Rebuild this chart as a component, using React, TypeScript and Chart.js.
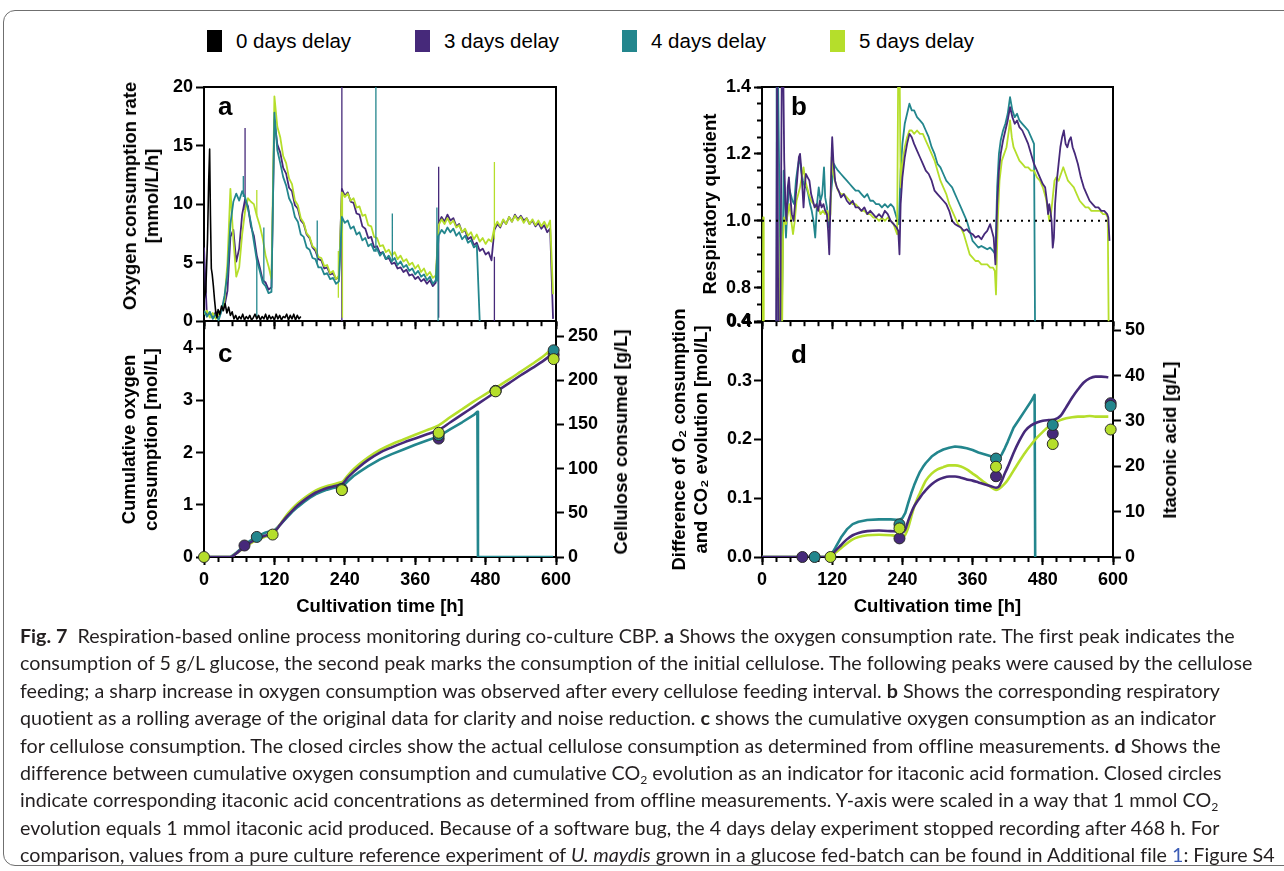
import React, { useEffect, useRef } from 'react';
import { Chart, registerables } from 'chart.js';

Chart.register(...registerables);

// ---------- colours ----------
const COL_0D = '#000000';
const COL_3D = '#46297a';
const COL_4D = '#23868d';
const COL_5D = '#b5de2b';

const SERIES_NAMES = ['0 days delay', '3 days delay', '4 days delay', '5 days delay'];
const SERIES_COLORS = [COL_0D, COL_3D, COL_4D, COL_5D];

// ---------- axes ----------
const X_MIN = 0;
const X_MAX = 600;
const X_MAJOR_STEP = 120;
const X_MINOR_STEP = 24;
const OCR_MAX = 20;
const OCR_STEP = 5;
const RQ_MIN = 0.7;
const RQ_MAX = 1.4;
const RQ_TICKS = [0.7, 0.8, 1.0, 1.2, 1.4];
const RQ_TICK_LABELS = ['0.4', '0.8', '1.0', '1.2', '1.4'];
const RQ_MINOR_STEP = 0.05;
const CUM_MAX = 4.5;
const CELL_MAX = 266;
const CELL_STEP = 50;
const DIFF_MAX = 0.4;
const DIFF_STEP = 0.1;
const ITA_MAX = 51.8;
const ITA_STEP = 10;

// ---------- panel a: oxygen consumption rate [mmol/L/h] ----------
const T_A = [
  0, 5, 10, 15, 20, 25, 30, 35, 40, 45, 50, 55,
  60, 65, 70, 75, 80, 85, 90, 95, 100, 105, 110, 115,
  120, 125, 130, 135, 140, 145, 150, 155, 160, 165, 170, 175,
  180, 185, 190, 195, 200, 205, 210, 215, 220, 225, 230, 235,
  240, 245, 250, 255, 260, 265, 270, 275, 280, 285, 290, 295,
  300, 305, 310, 315, 320, 325, 330, 335, 340, 345, 350, 355,
  360, 365, 370, 375, 380, 385, 390, 395, 400, 405, 410, 415,
  420, 425, 430, 435, 440, 445, 450, 455, 460, 465, 470, 475,
  480, 485, 490, 495, 500, 505, 510, 515, 520, 525, 530, 535,
  540, 545, 550, 555, 560, 565, 570, 575, 580, 585, 590, 595,
  600,
];
const OCR_3D = [
  6.3, 0.4, 0.7, 0.3, 0.8, 0.4, 0.9, 1.3, 2.6, 7.2, 7.8, 5.1,
  6.2, 9.1, 10.4, 9.8, 8.1, 7.3, 5.6, 4.6, 3.5, 3.3, 2.7, 2.9,
  17.2, 15.1, 14.4, 13.1, 12.6, 11.4, 11.1, 9.9, 9.6, 8.6, 8.3, 7.4,
  7.1, 6.3, 6.0, 5.3, 5.2, 4.5, 4.6, 4.0, 4.1, 3.6, 3.8, 11.3,
  10.7, 11.0, 10.2, 10.1, 9.2, 9.1, 8.1, 7.9, 7.1, 7.2, 6.3, 6.4,
  5.8, 5.9, 5.3, 5.4, 4.9, 5.0, 4.5, 4.6, 4.2, 4.4, 3.9, 4.0,
  3.6, 3.8, 3.4, 3.6, 3.2, 3.5, 3.0, 3.3, 8.4, 8.9, 8.5, 9.1,
  8.6, 8.8, 8.1, 8.3, 7.6, 7.8, 7.0, 7.2, 6.5, 6.7, 6.0, 6.2,
  5.7, 5.9, 5.2, 7.8, 8.3, 8.0, 8.6, 8.3, 8.9, 8.5, 9.1, 8.7,
  9.0, 8.6, 8.8, 8.3, 8.6, 8.1, 8.4, 7.9, 8.2, 7.6, 7.9, 0.2,
  null,
];
const OCR_4D = [
  0.9, 0.4, 0.8, 0.2, 0.6, 0.1, 0.9, 2.2, 4.1, 8.3, 10.2, 10.9,
  10.3, 11.1, 10.6, 9.6, 8.4, 6.8, 5.2, 4.3, 3.3, 3.0, 2.4, 2.5,
  17.8, 14.6, 13.5, 12.3, 11.6, 10.5, 10.0, 8.9, 8.5, 7.4, 7.2, 6.3,
  6.1, 5.4, 5.3, 4.6, 4.6, 4.0, 4.1, 3.6, 3.7, 3.2, 3.4, 8.9,
  8.4, 8.6, 7.9, 8.1, 7.4, 7.6, 6.9, 7.1, 6.4, 6.6, 6.0, 6.2,
  5.6, 5.9, 5.3, 5.6, 5.1, 5.4, 4.8, 5.1, 4.6, 4.8, 4.3, 4.5,
  4.0, 4.3, 3.8, 4.0, 3.5, 3.8, 3.2, 3.5, 7.3, 7.8, 7.5, 8.0,
  7.6, 7.9, 7.3, 7.6, 7.0, 7.3, 6.7, 6.9, 6.3, 6.5, 0.0, null,
  null, null, null, null, null, null, null, null, null, null, null, null,
  null, null, null, null, null, null, null, null, null, null, null, null,
  null,
];
const OCR_5D = [
  0.6, 0.9, 0.3, 0.7, 0.2, 0.6, 1.0, 1.8, 5.0, 11.3, 7.0, 3.8,
  4.6, 7.4, 9.4, 10.5, 10.2, 10.0, 9.0, 8.2, 7.1, 5.6, 4.7, 3.6,
  19.2, 16.6, 15.7, 14.1, 13.5, 12.2, 11.7, 10.3, 9.9, 8.8, 8.4, 7.5,
  7.2, 6.4, 6.2, 5.5, 5.4, 4.7, 4.8, 4.1, 4.3, 3.6, 3.9, 11.0,
  10.6, 10.9, 10.3, 10.5, 9.7, 9.8, 9.0, 9.1, 8.2, 8.1, 7.2, 7.1,
  6.4, 6.5, 5.9, 6.1, 5.6, 5.9, 5.3, 5.6, 5.1, 5.3, 4.8, 5.0,
  4.5, 4.8, 4.2, 4.5, 3.9, 4.2, 3.7, 3.9, 8.2, 8.7, 8.3, 8.8,
  8.3, 8.6, 8.0, 8.2, 7.6, 7.9, 7.3, 7.6, 7.0, 7.4, 6.8, 7.1,
  6.6, 7.0, 6.8, 8.0, 8.5, 8.1, 8.7, 8.3, 8.9, 8.5, 9.0, 8.6,
  8.9, 8.4, 8.8, 8.3, 8.7, 8.2, 8.6, 8.1, 8.5, 8.0, 8.6, 2.3,
  null,
];
const T_A_0D = [
  0, 3, 6, 8, 9.6, 11, 12.5, 14, 16, 18, 20, 22,
  24, 27, 30, 33, 36, 39, 42, 45, 48, 51, 54, 57,
  60, 63, 66, 69, 72, 75, 78, 81, 84, 87, 90, 93,
  96, 99, 102, 105, 108, 111, 114, 117, 120, 123, 126, 129,
  132, 135, 138, 141, 144, 147, 150, 153, 156, 159, 162, 165,
];
const OCR_0D = [
  1.8, 2.5, 7.0, 12.0, 14.7, 9.0, 4.5, 4.0, 3.0, 1.8, 0.8, 0.3,
  1.0, 0.6, 1.3, 0.9, 1.5, 0.7, 1.2, 0.5, 0.8, 0.2, 0.5, 0.1,
  0.4, 0.2, 0.6, 0.1, 0.4, 0.2, 0.5, 0.1, 0.3, 0.6, 0.2, 0.5,
  0.1, 0.4, 0.2, 0.6, 0.1, 0.5, 0.2, 0.4, 0.1, 0.6, 0.2, 0.5,
  0.1, 0.4, 0.3, 0.6, 0.1, 0.5, 0.2, 0.6, 0.1, 0.5, 0.2, 0.4,
];
// single-sample spikes (time, low end, high end)
const SPIKE_3D_T = [70, 235, 400, 495];
const SPIKE_3D_LO = [9.5, 0, 0.3, 0];
const SPIKE_3D_HI = [16.5, 20, 13.2, 5.5];
const SPIKE_4D_T = [67, 90, 102, 193, 293, 321, 397, 399];
const SPIKE_4D_LO = [10.6, 0.3, 3.3, 5.0, 5.9, 5.2, 3.4, 0];
const SPIKE_4D_HI = [12.4, 5.2, 8.0, 8.6, 20, 9.2, 9.7, 7.3];
const SPIKE_5D_T = [90, 229, 236, 495];
const SPIKE_5D_LO = [9.0, 2.0, 0.3, 7.0];
const SPIKE_5D_HI = [11.2, 6.0, 11.0, 13.6];

// ---------- panel b: respiratory quotient ----------
const T_RQ_3D = [
  24, 26, 28, 31, 34, 36, 38, 40, 42, 44,
  46, 48, 51, 54, 57, 60, 63, 65, 67, 69,
  71, 73, 75, 78, 81, 84, 87, 90, 93, 96,
  99, 102, 105, 108, 111, 113, 115, 117, 119, 120,
  122, 125, 128, 131, 135, 140, 145, 150, 155, 160,
  165, 170, 175, 180, 185, 190, 195, 200, 205, 210,
  215, 220, 225, 230, 233, 235, 237, 240, 244, 248,
  252, 256, 260, 265, 270, 275, 280, 285, 290, 295,
  300, 305, 310, 315, 320, 325, 330, 335, 340, 345,
  350, 355, 360, 365, 370, 375, 380, 385, 390, 393,
  396, 399, 402, 405, 408, 412, 416, 420, 424, 428,
  432, 436, 440, 445, 450, 455, 460, 465, 470, 475,
  480, 484, 487, 489, 491, 493, 495, 497, 499, 501,
  504, 507, 510, 513, 516, 519, 522, 525, 528, 531,
  535, 540, 545, 550, 555, 560, 565, 570, 575, 580,
  585, 590, 592, 594,
];
const RQ_3D = [
  0.6, 1.5, 0.6, 0.6, 1.5, 1.5, 1.18, 1.05, 1.0, 1.1,
  1.13, 1.08, 1.02, 1.0, 1.06, 1.12, 1.19, 1.2, 1.16, 1.1,
  1.04, 1.1, 1.14, 1.13, 1.12, 1.08, 1.06, 1.04, 1.05, 1.03,
  1.06, 1.04, 1.05, 1.03, 1.02, 0.97, 0.9, 1.05, 1.2, 1.25,
  1.18, 1.12, 1.1, 1.09, 1.07, 1.08, 1.06, 1.05, 1.06, 1.04,
  1.04, 1.03, 1.04, 1.02, 1.03, 1.02, 1.01, 1.02, 1.01, 1.03,
  1.02, 1.0, 0.99, 0.98, 0.97, 0.9, 1.05, 1.13, 1.19, 1.23,
  1.26, 1.25, 1.23, 1.21, 1.19, 1.17, 1.15, 1.14, 1.12, 1.09,
  1.08, 1.07, 1.06, 1.05, 1.03, 1.0, 0.99, 0.985, 0.98, 0.97,
  0.975, 0.965, 0.96, 0.95, 0.955, 0.945, 0.96, 0.97, 0.99, 0.97,
  0.95, 0.87, 1.05, 1.15, 1.2, 1.24, 1.27, 1.3, 1.34, 1.31,
  1.29, 1.3, 1.28, 1.27, 1.25, 1.23, 1.2, 1.17, 1.15, 1.13,
  1.11, 1.1, 1.06, 1.02, 1.05, 1.03, 1.0, 0.92, 0.95, 1.05,
  1.12, 1.17, 1.22, 1.25, 1.27, 1.23, 1.22, 1.24, 1.25, 1.22,
  1.2, 1.17, 1.13, 1.1, 1.08, 1.06, 1.05, 1.04, 1.04, 1.03,
  1.03, 1.02, 1.01, 0.94,
];
const T_RQ_4D = [
  22, 24, 25, 27, 33, 35, 37, 39, 41, 43,
  46, 49, 52, 55, 58, 61, 64, 67, 70, 73,
  76, 79, 82, 85, 88, 91, 94, 97, 100, 103,
  106, 108, 111, 114, 117, 120, 123, 126, 130, 135,
  140, 145, 150, 155, 160, 165, 170, 175, 180, 185,
  190, 195, 200, 205, 210, 215, 220, 225, 230, 234,
  237, 240, 244, 248, 252, 256, 260, 265, 270, 275,
  280, 285, 290, 295, 300, 305, 310, 315, 320, 325,
  330, 335, 340, 345, 350, 355, 360, 365, 370, 375,
  380, 385, 390, 395, 399, 402, 405, 408, 412, 416,
  420, 424, 428, 432, 436, 440, 445, 450, 455, 460,
  465, 467,
];
const RQ_4D = [
  0.6, 0.6, 1.5, 1.5, 0.6, 0.85, 1.15, 1.08, 0.95, 1.02,
  1.1, 1.08, 1.06, 1.05, 1.12, 1.16, 1.19, 1.15, 1.12, 1.1,
  1.1, 1.08, 1.05, 1.03, 1.0, 0.95, 1.05, 1.1, 1.06, 1.08,
  1.16, 1.07, 1.04, 0.98, 1.06, 1.12, 1.17, 1.16, 1.15, 1.14,
  1.13, 1.12, 1.11, 1.1, 1.09, 1.09, 1.08, 1.07, 1.08, 1.06,
  1.06, 1.05, 1.05, 1.04, 1.05, 1.04, 1.05, 1.04, 1.01, 0.99,
  1.15, 1.23, 1.29, 1.32, 1.35, 1.33, 1.33, 1.31, 1.3, 1.29,
  1.27, 1.25, 1.22, 1.2, 1.17, 1.16, 1.14, 1.12, 1.11, 1.1,
  1.08, 1.06, 1.04, 1.02, 1.0, 0.97, 0.94, 0.93, 0.92, 0.925,
  0.92, 0.915, 0.92, 0.91, 0.9, 1.1, 1.2, 1.24, 1.27, 1.29,
  1.32, 1.37, 1.33, 1.31, 1.32, 1.3, 1.29, 1.28, 1.27, 1.25,
  1.23, 0.6,
];
const T_RQ_5D = [
  1, 2, 3, 4, 30, 32, 34, 36, 38, 41,
  44, 47, 50, 53, 56, 59, 62, 65, 68, 71,
  74, 77, 80, 84, 88, 92, 96, 100, 104, 108,
  112, 115, 117, 119, 122, 126, 130, 135, 140, 145,
  150, 155, 160, 165, 170, 175, 180, 185, 190, 195,
  200, 205, 210, 215, 220, 225, 229, 231, 233, 235,
  237, 240, 244, 248, 252, 256, 260, 265, 270, 275,
  280, 285, 290, 295, 300, 305, 310, 315, 320, 325,
  330, 335, 340, 345, 350, 355, 360, 365, 370, 375,
  380, 385, 390, 395, 398, 400, 403, 406, 410, 414,
  418, 422, 424, 427, 430, 435, 440, 445, 450, 455,
  460, 465, 470, 475, 480, 485, 488, 491, 494, 497,
  500, 503, 507, 511, 515, 519, 523, 528, 533, 538,
  543, 548, 553, 558, 563, 568, 573, 578, 583, 588,
  591, 593,
];
const RQ_5D = [
  0.6, 1.01, 0.6, null, 0.6, 1.0, 0.6, 0.95, 1.01, 0.99,
  1.02, 1.05, 1.0, 0.96, 1.0, 1.06, 1.08, 1.1, 1.13, 1.16,
  1.12, 1.1, 1.08, 1.06, 1.05, 1.04, 1.04, 1.02, 1.03, 1.02,
  1.03, 1.0, 1.02, 1.19, 1.14, 1.11, 1.09, 1.08, 1.08, 1.07,
  1.06, 1.05, 1.05, 1.04, 1.03, 1.03, 1.02, 1.02, 1.01, 1.01,
  1.0, 1.01, 1.0, 1.01, 1.0, 0.99, 0.97, 0.96, 1.5, 1.5,
  1.1, 1.17, 1.22, 1.25, 1.27, 1.27, 1.26, 1.27, 1.26, 1.26,
  1.24, 1.22, 1.2, 1.18, 1.15, 1.12, 1.1, 1.08, 1.05, 1.03,
  1.01, 0.99, 0.98, 0.96, 0.93, 0.9, 0.89, 0.88, 0.88, 0.87,
  0.87, 0.87, 0.86, 0.86, 0.85, 0.78, 1.0, 1.12, 1.18, 1.2,
  1.22, 1.27, 1.3, 1.25, 1.22, 1.2, 1.18, 1.17, 1.16, 1.16,
  1.15, 1.15, 1.13, 1.12, 1.1, 1.07, 1.04, 1.0, 1.02, 1.07,
  1.12, 1.13, 1.12, 1.14, 1.16, 1.14, 1.12, 1.11, 1.1, 1.08,
  1.06, 1.05, 1.04, 1.04, 1.03, 1.03, 1.03, 1.03, 1.02, 1.02,
  1.01, 0.6,
];
const RQ_REF_T = [0, 600];
const RQ_REF_V = [1.0, 1.0];

// ---------- panel c: cumulative oxygen consumption [mol/L] ----------
const T_C = [
  0, 45, 55, 65, 75, 85, 95, 105, 115, 120,
  130, 140, 150, 160, 170, 180, 190, 200, 210, 220,
  230, 236, 245, 255, 265, 280, 300, 320, 340, 360,
  380, 400, 420, 440, 460, 480, 500, 520, 540, 560,
  580, 595,
];
const CUM_3D = [
  0, 0, 0.07, 0.16, 0.25, 0.32, 0.37, 0.41, 0.45, 0.48,
  0.62, 0.76, 0.88, 0.99, 1.08, 1.16, 1.23, 1.28, 1.32, 1.35,
  1.38, 1.40, 1.52, 1.63, 1.73, 1.86, 2.0, 2.1, 2.19, 2.27,
  2.35, 2.43, 2.58, 2.73, 2.88, 3.03, 3.18, 3.33, 3.48, 3.62,
  3.77, 3.9,
];
const CUM_5D = [
  0, 0, 0.07, 0.15, 0.23, 0.3, 0.35, 0.39, 0.43, 0.47,
  0.63, 0.79, 0.92, 1.03, 1.12, 1.2, 1.27, 1.32, 1.36, 1.39,
  1.42, 1.44, 1.56, 1.68, 1.78, 1.91, 2.05, 2.16, 2.25, 2.34,
  2.43, 2.52, 2.68, 2.83, 2.98, 3.12, 3.26, 3.4, 3.55, 3.7,
  3.86, 4.0,
];
const T_C_4D = [
  0, 45, 55, 65, 75, 85, 95, 105, 115, 120,
  130, 140, 150, 160, 170, 180, 190, 200, 210, 220,
  230, 236, 245, 255, 265, 280, 300, 320, 340, 360,
  380, 400, 420, 440, 460, 466, 467, 595,
];
const CUM_4D = [
  0, 0, 0.08, 0.18, 0.28, 0.36, 0.42, 0.47, 0.5, 0.51,
  0.62, 0.74, 0.86, 0.96, 1.05, 1.13, 1.2, 1.25, 1.29, 1.32,
  1.34, 1.35, 1.45, 1.55, 1.63, 1.74, 1.87, 1.97, 2.06, 2.15,
  2.23, 2.31, 2.45, 2.58, 2.72, 2.78, 0, 0,
];
// offline cellulose consumed [g/L]
const CELL_3D_T = [69, 235, 400, 497, 596];
const CELL_3D = [13, 76, 134, 188, 229];
const CELL_4D_T = [90, 235, 400, 497, 596];
const CELL_4D = [22.7, 77, 138, 188, 234];
const CELL_5D_T = [0, 117, 235, 400, 497, 596];
const CELL_5D = [0, 25.4, 75.7, 140.6, 187.5, 224];

// ---------- panel d: O2 consumption minus CO2 evolution [mol/L] ----------
const T_D = [
  0, 116, 125, 135, 145, 155, 165, 180, 200, 220,
  235, 240, 245, 250, 255, 260, 265, 270, 275, 280,
  290, 300, 310, 320, 330, 340, 350, 360, 370, 380,
  390, 400, 405, 410, 415, 420, 425, 430, 440, 450,
  460, 470, 480, 490, 500, 510, 520, 530, 540, 550,
  560, 570, 580, 592,
];
const DIFF_3D = [
  0, 0, 0.01, 0.02, 0.03, 0.037, 0.041, 0.044, 0.045, 0.044,
  0.043, 0.042, 0.047, 0.062, 0.075, 0.086, 0.094, 0.101, 0.108, 0.114,
  0.124, 0.131, 0.135, 0.137, 0.137, 0.135, 0.132, 0.13, 0.127, 0.124,
  0.121, 0.118, 0.12, 0.13, 0.142, 0.153, 0.165, 0.177, 0.198, 0.215,
  0.224, 0.229, 0.232, 0.233, 0.234, 0.24, 0.255, 0.271, 0.285, 0.297,
  0.304, 0.307, 0.307, 0.306,
];
const DIFF_5D = [
  0, 0, 0.007, 0.015, 0.023, 0.03, 0.034, 0.037, 0.038, 0.037,
  0.035, 0.033, 0.038, 0.05, 0.068, 0.085, 0.098, 0.109, 0.12, 0.13,
  0.142, 0.149, 0.153, 0.156, 0.156, 0.154, 0.149, 0.142, 0.135, 0.127,
  0.12, 0.114, 0.116, 0.12, 0.125, 0.131, 0.139, 0.147, 0.163, 0.178,
  0.191, 0.203, 0.213, 0.222, 0.228, 0.233, 0.236, 0.238, 0.239, 0.239,
  0.24, 0.239, 0.239, 0.239,
];
const T_D_4D = [
  0, 116, 125, 135, 145, 155, 165, 180, 200, 220,
  235, 240, 245, 250, 255, 260, 265, 270, 275, 280,
  290, 300, 310, 320, 330, 340, 350, 360, 370, 380,
  390, 400, 405, 410, 415, 420, 425, 430, 440, 450,
  460, 466, 467,
];
const DIFF_4D = [
  0, 0, 0.015, 0.033, 0.047, 0.056, 0.06, 0.063, 0.064, 0.064,
  0.063, 0.066, 0.075, 0.092, 0.108, 0.122, 0.134, 0.145, 0.153, 0.16,
  0.171, 0.178, 0.183, 0.186, 0.188, 0.187, 0.185, 0.182, 0.178, 0.175,
  0.172, 0.168, 0.168, 0.175, 0.185, 0.196, 0.208, 0.22, 0.235, 0.25,
  0.265, 0.276, 0,
];
// offline itaconic acid [g/L]
const ITA_3D_T = [69, 235, 400, 497, 596];
const ITA_3D = [0, 4.1, 17.8, 27.2, 33.9];
const ITA_4D_T = [90, 235, 400, 497, 596];
const ITA_4D = [0, 7.2, 21.7, 29.1, 33.3];
const ITA_5D_T = [117, 235, 400, 497, 596];
const ITA_5D = [0, 6.3, 19.9, 24.9, 28.1];

// ---------- helpers ----------
const FONT = '"Liberation Sans", Arial, Helvetica, sans-serif';
const TICK_FONT = { family: FONT, size: 18, weight: 'bold' };
const TITLE_FONT = { family: FONT, size: 18.5, weight: 'bold', lineHeight: '22px' };

const xy = (t: number[], v: (number | null)[]) => t.map((x, i) => ({ x, y: v[i] }));
const spikes = (t: number[], lo: number[], hi: number[]) =>
  t.flatMap((x, i) => [{ x, y: lo[i] }, { x, y: hi[i] }, { x, y: null }]);

const GRID = { drawOnChartArea: false, drawTicks: true, tickLength: 8, tickColor: '#000', tickWidth: 2 };
const BORDER = { display: true, color: '#000', width: 2 };

function xMain(labels: boolean, height: number, title?: string) {
  return {
    type: 'linear', axis: 'x', position: 'bottom', min: X_MIN, max: X_MAX, weight: 1,
    ticks: {
      display: labels, stepSize: X_MAJOR_STEP, autoSkip: false, maxRotation: 0, includeBounds: false,
      color: '#000', font: TICK_FONT, padding: 4,
    },
    grid: GRID,
    border: BORDER,
    title: title
      ? { display: true, text: title, color: '#000', font: TITLE_FONT, padding: { top: 0, bottom: 7 } }
      : { display: false },
    afterFit: (s: any) => { s.height = height; },
  };
}

function xMinor() {
  return {
    type: 'linear', axis: 'x', position: 'bottom', min: X_MIN, max: X_MAX, weight: 0,
    ticks: { display: false, stepSize: X_MINOR_STEP, autoSkip: false, includeBounds: false },
    grid: { ...GRID, tickLength: 5 },
    border: { display: false },
    afterFit: (s: any) => { s.height = 0; },
  };
}

function yMain(o: {
  pos: 'left' | 'right'; min: number; max: number; step?: number; list?: number[];
  fmt: (v: number, i: number) => string; width: number; title?: string | string[]; titlePad: number; pad: number;
}) {
  return {
    type: 'linear', axis: 'y', position: o.pos, min: o.min, max: o.max, weight: 1,
    afterBuildTicks: o.list ? (s: any) => { s.ticks = o.list!.map((value) => ({ value })); } : undefined,
    ticks: {
      stepSize: o.step, autoSkip: false, includeBounds: false, color: '#000', font: TICK_FONT, padding: o.pad,
      callback: (v: any, i: number) => o.fmt(Number(v), i),
    },
    grid: GRID,
    border: BORDER,
    title: o.title
      ? { display: true, text: o.title, color: '#000', font: TITLE_FONT, padding: { top: o.titlePad, bottom: 0 } }
      : { display: false },
    afterFit: (s: any) => { s.width = o.width; },
  };
}

function yMinor(min: number, max: number, step: number) {
  return {
    type: 'linear', axis: 'y', position: 'left', min, max, weight: 0,
    ticks: { display: false, stepSize: step, autoSkip: false, includeBounds: false },
    grid: { ...GRID, tickLength: 5 },
    border: { display: false },
    afterFit: (s: any) => { s.width = 0; },
  };
}

function frameAxis(axis: 'x' | 'y', pos: 'top' | 'right', min: number, max: number) {
  return {
    type: 'linear', axis, position: pos, min, max, weight: 0,
    ticks: { display: false },
    grid: { drawOnChartArea: false, drawTicks: false },
    border: BORDER,
    afterFit: (s: any) => { if (axis === 'x') s.height = 0; else s.width = 0; },
  };
}

function baseOptions(padding: any, scales: any) {
  return {
    responsive: false,
    maintainAspectRatio: false,
    animation: false,
    events: [],
    layout: { padding },
    plugins: { legend: { display: false }, tooltip: { enabled: false }, title: { display: false } },
    elements: { point: { radius: 0, hoverRadius: 0 }, line: { tension: 0, borderJoinStyle: 'round' } },
    scales,
  };
}

function lineDs(data: any[], color: string, width: number, order: number, extra: any = {}) {
  return {
    data, borderColor: color, backgroundColor: color, borderWidth: width, pointRadius: 0,
    fill: false, spanGaps: false, order, xAxisID: 'x', yAxisID: 'y', ...extra,
  };
}

function dotDs(data: any[], color: string, order: number) {
  return {
    data, showLine: false, pointRadius: 5.5, pointBackgroundColor: color, pointBorderColor: '#2b2b2b',
    pointBorderWidth: 1, borderColor: color, backgroundColor: color, order, xAxisID: 'x', yAxisID: 'y2', clip: false,
  };
}

// ---------- chart configs ----------
function configA(): any {
  return {
    type: 'line',
    data: {
      datasets: [
        lineDs(xy(T_A_0D, OCR_0D), COL_0D, 1.6, 0),
        lineDs(xy(T_A, OCR_4D), COL_4D, 1.8, 1),
        lineDs(spikes(SPIKE_4D_T, SPIKE_4D_LO, SPIKE_4D_HI), COL_4D, 1.3, 1),
        lineDs(xy(T_A, OCR_5D), COL_5D, 1.8, 2),
        lineDs(spikes(SPIKE_5D_T, SPIKE_5D_LO, SPIKE_5D_HI), COL_5D, 1.3, 2),
        lineDs(xy(T_A, OCR_3D), COL_3D, 1.8, 3),
        lineDs(spikes(SPIKE_3D_T, SPIKE_3D_LO, SPIKE_3D_HI), COL_3D, 1.3, 3),
      ],
    },
    options: baseOptions({ left: 0, top: 17, right: 14, bottom: 0 }, {
      x: xMain(false, 13),
      xm: xMinor(),
      xt: frameAxis('x', 'top', X_MIN, X_MAX),
      y: yMain({
        pos: 'left', min: 0, max: OCR_MAX, step: OCR_STEP, fmt: (v) => String(v), width: 94,
        titlePad: 0, pad: 3,
      }),
      yr: frameAxis('y', 'right', 0, OCR_MAX),
    }),
  };
}

function configB(): any {
  return {
    type: 'line',
    data: {
      datasets: [
        lineDs(xy(RQ_REF_T, RQ_REF_V), '#000', 2, 0, { borderDash: [2, 5] }),
        lineDs(xy(T_RQ_3D, RQ_3D), COL_3D, 1.8, 1),
        lineDs(xy(T_RQ_5D, RQ_5D), COL_5D, 1.8, 2),
        lineDs(xy(T_RQ_4D, RQ_4D), COL_4D, 1.8, 3),
      ],
    },
    options: baseOptions({ left: 0, top: 17, right: 17, bottom: 0 }, {
      x: xMain(false, 13),
      xm: xMinor(),
      xt: frameAxis('x', 'top', X_MIN, X_MAX),
      y: yMain({
        pos: 'left', min: RQ_MIN, max: RQ_MAX, list: RQ_TICKS, fmt: (_v, i) => RQ_TICK_LABELS[i], width: 102,
        title: 'Respiratory quotient', titlePad: 40, pad: 3,
      }),
      ym: yMinor(RQ_MIN, RQ_MAX, RQ_MINOR_STEP),
      yr: frameAxis('y', 'right', RQ_MIN, RQ_MAX),
    }),
  };
}

function configC(): any {
  return {
    type: 'line',
    data: {
      datasets: [
        dotDs(xy(CELL_5D_T, CELL_5D), COL_5D, 0),
        dotDs(xy(CELL_4D_T, CELL_4D), COL_4D, 1),
        dotDs(xy(CELL_3D_T, CELL_3D), COL_3D, 2),
        lineDs(xy(T_C, CUM_3D), COL_3D, 2.6, 3, { cubicInterpolationMode: 'monotone' }),
        lineDs(xy(T_C, CUM_5D), COL_5D, 2.6, 4, { cubicInterpolationMode: 'monotone' }),
        lineDs(xy(T_C_4D, CUM_4D), COL_4D, 2.6, 5),
      ],
    },
    options: baseOptions({ left: 0, top: 17, right: 0, bottom: 0 }, {
      x: xMain(true, 68, 'Cultivation time [h]'),
      xm: xMinor(),
      y: yMain({
        pos: 'left', min: 0, max: CUM_MAX, step: 1, fmt: (v) => String(v), width: 94,
        title: ['Cumulative oxygen', 'consumption [mol/L]'], titlePad: 9, pad: 3,
      }),
      y2: yMain({
        pos: 'right', min: 0, max: CELL_MAX, step: CELL_STEP, fmt: (v) => String(v), width: 84,
        titlePad: 0, pad: 4,
      }),
    }),
  };
}

function configD(): any {
  return {
    type: 'line',
    data: {
      datasets: [
        dotDs(xy(ITA_5D_T, ITA_5D), COL_5D, 0),
        dotDs(xy(ITA_4D_T, ITA_4D), COL_4D, 1),
        dotDs(xy(ITA_3D_T, ITA_3D), COL_3D, 2),
        lineDs(xy(T_D, DIFF_3D), COL_3D, 2.6, 3, { cubicInterpolationMode: 'monotone' }),
        lineDs(xy(T_D, DIFF_5D), COL_5D, 2.6, 4, { cubicInterpolationMode: 'monotone' }),
        lineDs(xy(T_D_4D, DIFF_4D), COL_4D, 2.6, 5),
      ],
    },
    options: baseOptions({ left: 0, top: 17, right: 0, bottom: 0 }, {
      x: xMain(true, 68, 'Cultivation time [h]'),
      xm: xMinor(),
      y: yMain({
        pos: 'left', min: 0, max: DIFF_MAX, step: DIFF_STEP, fmt: (v) => v.toFixed(1), width: 102,
        title: ['Difference of O\u2082 consumption', 'and CO\u2082 evolution [mol/L]'], titlePad: 9, pad: 2,
      }),
      y2: yMain({
        pos: 'right', min: 0, max: ITA_MAX, step: ITA_STEP, fmt: (v) => String(v), width: 76,
        titlePad: 0, pad: 4,
      }),
    }),
  };
}

// ---------- component ----------
const canvasStyle = (left: number, top: number): React.CSSProperties => ({ position: 'absolute', left, top });

const panelLetter = (left: number, top: number): React.CSSProperties => ({
  position: 'absolute', left, top, fontFamily: FONT, fontWeight: 'bold', fontSize: 26, lineHeight: '26px', color: '#000',
});

const rotatedTitle = (cx: number, cy: number): React.CSSProperties => ({
  position: 'absolute', left: cx, top: cy, transform: 'translate(-50%, -50%) rotate(-90deg)',
  fontFamily: FONT, fontWeight: 'bold', fontSize: 18.5, lineHeight: '22px', color: '#000', whiteSpace: 'nowrap',
  textAlign: 'center',
});

const SUB: React.CSSProperties = { fontSize: '0.62em', position: 'relative', top: '0.3em', lineHeight: 0 };

export default function App() {
  const ra = useRef<HTMLCanvasElement>(null);
  const rb = useRef<HTMLCanvasElement>(null);
  const rc = useRef<HTMLCanvasElement>(null);
  const rd = useRef<HTMLCanvasElement>(null);

  useEffect(() => {
    const charts = [
      new Chart(ra.current as HTMLCanvasElement, configA()),
      new Chart(rb.current as HTMLCanvasElement, configB()),
      new Chart(rc.current as HTMLCanvasElement, configC()),
      new Chart(rd.current as HTMLCanvasElement, configD()),
    ];
    return () => charts.forEach((c) => c.destroy());
  }, []);

  const legendX = [207, 415, 622, 830];

  return (
    <div style={{ position: 'absolute', left: 0, top: 0, width: 1284, height: 871, overflow: 'hidden', background: '#fff' }}>
      <div style={{ position: 'absolute', left: 3, top: 10, width: 1330, height: 854, border: '1.5px solid #6f6f6f', borderRadius: 12 }} />

      {SERIES_NAMES.map((name, i) => (
        <div key={name} style={{ position: 'absolute', left: legendX[i], top: 30, height: 22, display: 'flex', alignItems: 'center' }}>
          <div style={{ width: 15, height: 22, background: SERIES_COLORS[i] }} />
          <div style={{ marginLeft: 14, fontFamily: FONT, fontSize: 20.5, color: '#000', whiteSpace: 'nowrap' }}>{name}</div>
        </div>
      ))}

      <canvas ref={ra} width={460} height={265} style={canvasStyle(110, 70)} />
      <canvas ref={rb} width={470} height={265} style={canvasStyle(660, 70)} />
      <canvas ref={rc} width={530} height={320} style={canvasStyle(110, 305)} />
      <canvas ref={rd} width={529} height={320} style={canvasStyle(660, 305)} />

      <div style={rotatedTitle(141, 196)}>Oxygen consumption rate<br />[mmol/L/h]</div>
      <div style={rotatedTitle(621, 442)}>Cellulose consumed [g/L]</div>
      <div style={rotatedTitle(1170, 440)}>Itaconic acid [g/L]</div>

      <div style={panelLetter(218, 93)}>a</div>
      <div style={panelLetter(791, 93)}>b</div>
      <div style={panelLetter(218, 340)}>c</div>
      <div style={panelLetter(791, 341)}>d</div>

      <div style={{
        position: 'absolute', left: 20, top: 622, fontFamily: 'Lato, "Open Sans", sans-serif', fontSize: 19.7,
        lineHeight: '27.4px', color: '#231f20', whiteSpace: 'nowrap', fontVariantLigatures: 'none',
      }}>
        <div><b>Fig. 7</b>&nbsp;&nbsp;Respiration-based online process monitoring during co-culture CBP. <b>a</b> Shows the oxygen consumption rate. The first peak indicates the</div>
        <div>consumption of 5 g/L glucose, the second peak marks the consumption of the initial cellulose. The following peaks were caused by the cellulose</div>
        <div>feeding; a sharp increase in oxygen consumption was observed after every cellulose feeding interval. <b>b</b> Shows the corresponding respiratory</div>
        <div>quotient as a rolling average of the original data for clarity and noise reduction. <b>c</b> shows the cumulative oxygen consumption as an indicator</div>
        <div>for cellulose consumption. The closed circles show the actual cellulose consumption as determined from offline measurements. <b>d</b> Shows the</div>
        <div>difference between cumulative oxygen consumption and cumulative CO<span style={SUB}>2</span> evolution as an indicator for itaconic acid formation. Closed circles</div>
        <div>indicate corresponding itaconic acid concentrations as determined from offline measurements. Y-axis were scaled in a way that 1 mmol CO<span style={SUB}>2</span></div>
        <div>evolution equals 1 mmol itaconic acid produced. Because of a software bug, the 4 days delay experiment stopped recording after 468 h. For</div>
        <div>comparison, values from a pure culture reference experiment of <i>U. maydis</i> grown in a glucose fed-batch can be found in Additional file <span style={{ color: '#3b5bb5' }}>1</span>: Figure S4</div>
      </div>
    </div>
  );
}
